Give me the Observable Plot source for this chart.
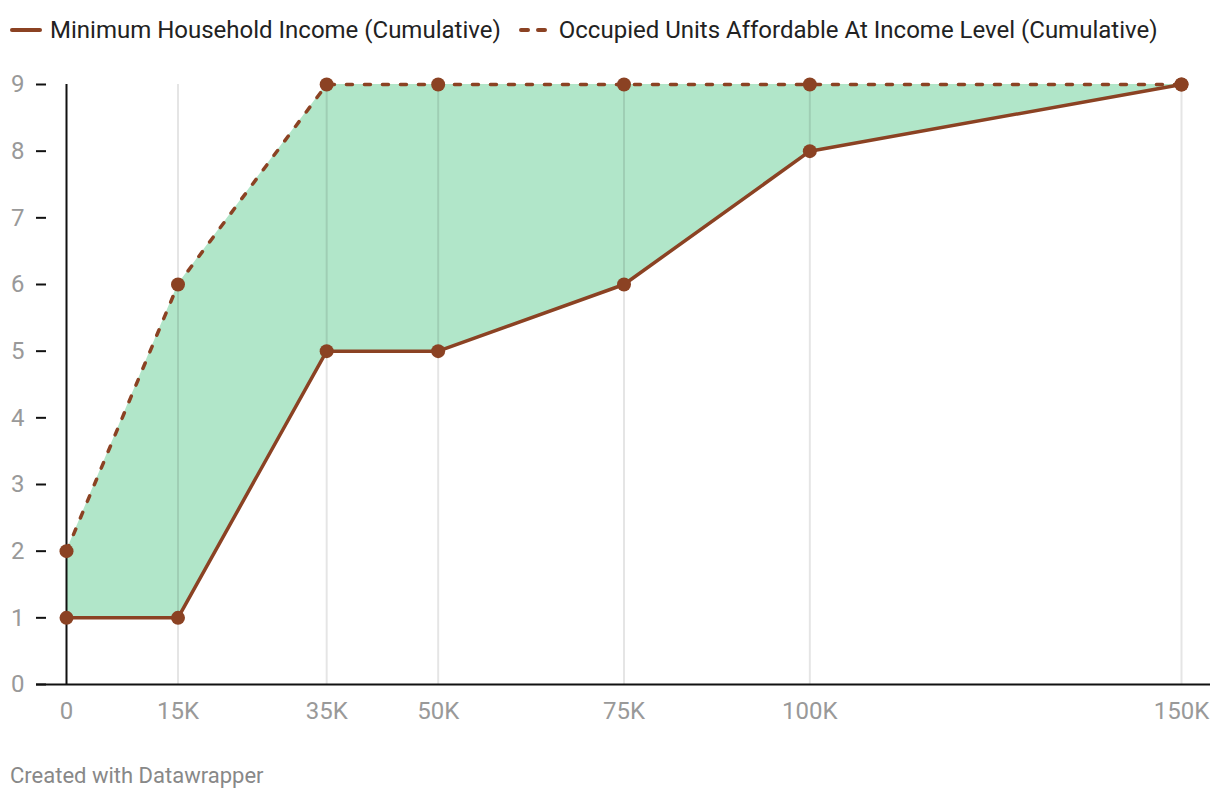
<!DOCTYPE html>
<html>
<head>
<meta charset="utf-8">
<script src="https://cdn.jsdelivr.net/npm/d3@7"></script>
<script src="https://cdn.jsdelivr.net/npm/@observablehq/plot@0.6"></script>
<style>
  html, body { margin: 0; padding: 0; background: #fff; font-family: Roboto, sans-serif; }
  #legend { height: 60px; display: flex; align-items: center; padding-left: 10px; font-size: 24px; color: #222; }
  .item { display: flex; align-items: center; margin-right: 18px; }
  .item svg { margin-right: 8px; }
  #footer { height: 60px; padding-left: 10px; font-size: 22px; color: #888; line-height: 72px; }
</style>
</head>
<body>
<div id="legend"></div>
<div id="chart"></div>
<div id="footer">Created with Datawrapper</div>
<script>
const incomes = [0, 15000, 35000, 50000, 75000, 100000, 150000];
const minIncome = [1, 1, 5, 5, 6, 8, 9];
const unitsAffordable = [2, 6, 9, 9, 9, 9, 9];
const yTicks = [0, 1, 2, 3, 4, 5, 6, 7, 8, 9];
const seriesNames = ["Minimum Household Income (Cumulative)", "Occupied Units Affordable At Income Level (Cumulative)"];

const brown = "#8b4223";
const data = incomes.map((x, i) => ({x, income: minIncome[i], units: unitsAffordable[i]}));
const fmt = d => d === 0 ? "0" : (d / 1000) + "K";

// legend
const legend = document.getElementById("legend");
seriesNames.forEach((name, i) => {
  const it = document.createElement("div");
  it.className = "item";
  const dash = i === 1 ? 'stroke-dasharray="7,10"' : '';
  it.innerHTML = `<svg width="32" height="10"><line x1="2" x2="30" y1="5" y2="5" stroke="${brown}" stroke-width="4" stroke-linecap="round" ${dash}/></svg><span>${name}</span>`;
  legend.appendChild(it);
});

const chart = Plot.plot({
  width: 1220,
  height: 680,
  marginTop: 24,
  marginBottom: 56,
  marginLeft: 66,
  marginRight: 39,
  x: {domain: [0, 150000]},
  y: {domain: [0, 9]},
  style: {fontFamily: "Roboto, sans-serif", fontSize: "24px", background: "white", overflow: "visible"},
  marks: [
    Plot.areaY(data, {x: "x", y1: "income", y2: "units", fill: "#b1e6c9"}),
    Plot.ruleX(incomes.slice(1), {stroke: "#000", strokeOpacity: 0.1, strokeWidth: 2}),
    Plot.ruleX([0], {stroke: "#111", strokeWidth: 2}),
    Plot.ruleY([0], {stroke: "#111", strokeWidth: 2, insetLeft: -30, insetRight: -29}),
    Plot.axisY({ticks: yTicks, tickSize: 10, tickPadding: 12, dx: -20, stroke: "#111", strokeWidth: 2, fill: "#999", label: null, tickFormat: d => String(d)}),
    Plot.axisX({ticks: incomes, tickSize: 0, tickPadding: 17, fill: "#999", label: null, tickFormat: fmt}),
    Plot.line(data, {x: "x", y: "units", stroke: brown, strokeWidth: 3.5, strokeDasharray: "6,12", strokeLinecap: "round"}),
    Plot.line(data, {x: "x", y: "income", stroke: brown, strokeWidth: 3.5}),
    Plot.dot(data, {x: "x", y: "units", r: 7, fill: brown}),
    Plot.dot(data, {x: "x", y: "income", r: 7, fill: brown})
  ]
});
document.getElementById("chart").appendChild(chart);
</script>
</body>
</html>
